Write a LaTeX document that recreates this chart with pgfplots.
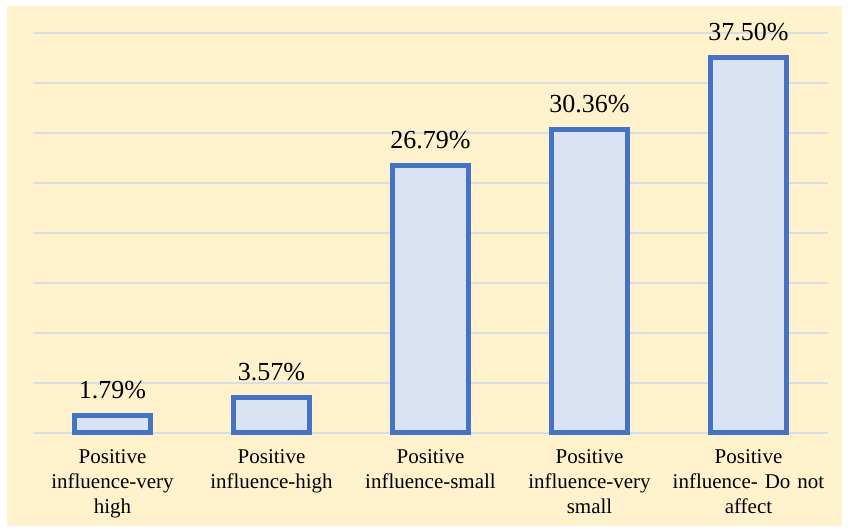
\documentclass[border=0pt]{standalone}
\usepackage{pgfplots}
\pgfplotsset{compat=1.18}
\usepackage{fontspec}
\setmainfont{Liberation Serif}
\definecolor{bgy}{HTML}{FFF2CC}
\definecolor{barfill}{HTML}{DAE3F3}
\definecolor{barline}{HTML}{4472C4}
\definecolor{gridc}{HTML}{D9DDE4}
\begin{document}
\begin{tikzpicture}[x=1pt,y=1pt]
\path[use as bounding box] (0,0) rectangle (848,529);
\fill[bgy] (7,3) rectangle (842,523);
\begin{axis}[
  at={(33pt,96pt)}, anchor=south west,
  scale only axis, width=795pt, height=400pt,
  xmin=-0.5, xmax=4.5, ymin=0, ymax=40,
  axis line style={draw=none},
  tick style={draw=none},
  ytick={0,5,...,40}, yticklabels={},
  ymajorgrids, grid style={gridc, line width=1.5pt},
  xtick={0,1,2,3,4},
  xticklabels={Positive\\influence-very\\high, Positive\\influence-high, Positive\\influence-small, Positive\\influence-very\\small, Positive\\influence-~Do~not\\affect},
  xticklabel style={align=center, text width=180pt, font=\fontsize{21}{25}\selectfont, anchor=north, yshift=-13pt},
  /pgf/number format/assume math mode=true,
  clip=false,
]
\addplot[ybar, bar width=76pt, fill=barfill, draw=barline, line width=5pt,
  nodes near coords={\pgfmathprintnumber[fixed,fixed zerofill,precision=2,assume math mode=true]{\pgfplotspointmeta}\%},
  nodes near coords style={font=\fontsize{26}{30}\selectfont, text=black, anchor=base, yshift=17pt},
] coordinates {(0,1.79) (1,3.57) (2,26.79) (3,30.36) (4,37.50)};
\end{axis}
\end{tikzpicture}
\end{document}
